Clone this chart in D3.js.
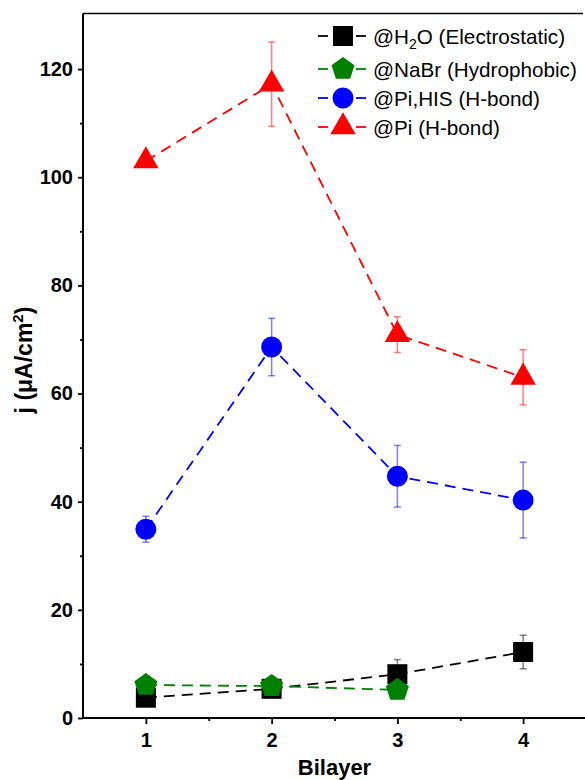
<!DOCTYPE html>
<html>
<head>
<meta charset="utf-8">
<script src="https://cdn.jsdelivr.net/npm/d3@7"></script>
<style>
  html, body { margin: 0; padding: 0; background: #fff; }
  svg { display: block; }
  text { font-family: "Liberation Sans", Arial, sans-serif; }
</style>
</head>
<body>
<svg id="chart" width="585" height="780"></svg>
<script>
// Bilayer number on the x axis
const bilayers = [1, 2, 3, 4];

// Current density j (µA/cm²) per series, with standard deviations (null = not drawn)
const h2oValues   = [3.75, 5.4, 8.1, 12.2];
const h2oErrors   = [null, null, 2.7, 3.1];
const nabrValues  = [6.1, 5.9, 5.2];
const nabrErrors  = [null, null, null];
const pihisValues = [34.9, 68.6, 44.7, 40.3];
const pihisErrors = [2.4, 5.3, 5.7, 7.0];
const piValues    = [103.0, 117.2, 70.9, 63.0];
const piErrors    = [null, 7.8, 3.3, 5.1];

const seriesNames = ["@H2O (Electrostatic)", "@NaBr (Hydrophobic)", "@Pi,HIS (H-bond)", "@Pi (H-bond)"];

const yMajorTicks = [0, 20, 40, 60, 80, 100, 120];
const yMinorTicks = [10, 30, 50, 70, 90, 110];
const xMajorTicks = [1, 2, 3, 4];
const xMinorTicks = [1.5, 2.5, 3.5];

const series = [
  { name: seriesNames[0], values: h2oValues,   errors: h2oErrors,   color: "#000000", shape: "square" },
  { name: seriesNames[1], values: nabrValues,  errors: nabrErrors,  color: "#008000", shape: "pentagon" },
  { name: seriesNames[2], values: pihisValues, errors: pihisErrors, color: "#0000ff", shape: "circle" },
  { name: seriesNames[3], values: piValues,    errors: piErrors,    color: "#ff0000", shape: "triangle" }
];

const plotLeft = 83, plotRight = 586, plotTop = 15, plotBottom = 718;
const x = d3.scaleLinear().domain([0.5, 4.5]).range([plotLeft, plotRight]);
const y = d3.scaleLinear().domain([0, 130]).range([plotBottom, plotTop]);

const svg = d3.select("#chart");

// Marker outlines, centred on the data point
function markerPath(shape) {
  if (shape === "square") {
    const h = 10;
    return `M${-h},${-h}H${h}V${h}H${-h}Z`;
  }
  if (shape === "circle") {
    const r = 10.5;
    return `M${r},0A${r},${r} 0 1,1 ${-r},0A${r},${r} 0 1,1 ${r},0Z`;
  }
  if (shape === "pentagon") {
    const R = 12.1;
    const pts = d3.range(5).map(i => {
      const a = -Math.PI / 2 + i * 2 * Math.PI / 5;
      return [R * Math.cos(a), R * Math.sin(a)];
    });
    return "M" + pts.map(p => p.join(",")).join("L") + "Z";
  }
  // triangle centred on its centroid
  const k = 7.35, s = Math.sqrt(3);
  return `M0,${-2 * k}L${s * k},${k}L${-s * k},${k}Z`;
}

// Axes
const yAxisMajor = d3.axisLeft(y).tickValues(yMajorTicks).tickSize(5).tickPadding(5).tickFormat(d3.format("d"));
const yAxisMinor = d3.axisLeft(y).tickValues(yMinorTicks).tickSize(3).tickFormat("");
const xAxisMajor = d3.axisBottom(x).tickValues(xMajorTicks).tickSize(6).tickPadding(9).tickFormat(d3.format("d"));
const xAxisMinor = d3.axisBottom(x).tickValues(xMinorTicks).tickSize(3).tickFormat("");

function styleAxis(g) {
  g.select(".domain").remove();
  g.selectAll(".tick line").attr("stroke", "#000").attr("stroke-width", 1.8);
  g.selectAll(".tick text")
    .attr("font-family", "'Liberation Sans', Arial, sans-serif")
    .attr("font-size", 20).attr("font-weight", "bold").attr("fill", "#000");
}

svg.append("g").attr("transform", `translate(${plotLeft},0)`).call(yAxisMajor).call(styleAxis);
svg.append("g").attr("transform", `translate(${plotLeft},0)`).call(yAxisMinor).call(styleAxis);
svg.append("g").attr("transform", `translate(0,${plotBottom})`).call(xAxisMajor).call(styleAxis);
svg.append("g").attr("transform", `translate(0,${plotBottom})`).call(xAxisMinor).call(styleAxis);

// Frame: left axis, bottom axis, top border
svg.append("line").attr("x1", plotLeft).attr("x2", plotLeft).attr("y1", plotTop - 1.5).attr("y2", plotBottom + 1)
  .attr("stroke", "#000").attr("stroke-width", 2);
svg.append("line").attr("x1", plotLeft - 1).attr("x2", 585).attr("y1", plotBottom).attr("y2", plotBottom)
  .attr("stroke", "#000").attr("stroke-width", 2);
svg.append("line").attr("x1", plotLeft).attr("x2", 583).attr("y1", plotTop - 1.5).attr("y2", plotTop - 1.5)
  .attr("stroke", "#000").attr("stroke-width", 1.6);

// Axis titles
svg.append("text")
  .attr("x", (plotLeft + plotRight) / 2).attr("y", 774.5)
  .attr("text-anchor", "middle").attr("font-size", 22).attr("font-weight", "bold")
  .text("Bilayer");

const yTitle = svg.append("text")
  .attr("transform", "translate(32,360) rotate(-90)")
  .attr("text-anchor", "middle").attr("font-size", 23).attr("font-weight", "bold");
yTitle.append("tspan").text("j (\u03BCA/cm");
yTitle.append("tspan").attr("font-size", 15).attr("dy", -9).text("2");
yTitle.append("tspan").attr("dy", 9).text(")");

// Series: dashed connecting line, error bars, markers
const plot = svg.append("g");
const line = d3.line().x(d => x(d.x)).y(d => y(d.v));

series.forEach(s => {
  const pts = s.values.map((v, i) => ({ x: bilayers[i], v, e: s.errors[i] }));
  const g = plot.append("g");

  g.append("path").datum(pts).attr("d", line)
    .attr("fill", "none").attr("stroke", s.color)
    .attr("stroke-width", 1.8).attr("stroke-dasharray", "11,7");

  const eb = g.selectAll(".err").data(pts.filter(p => p.e != null)).join("g")
    .attr("stroke", s.color).attr("stroke-opacity", 0.5).attr("stroke-width", 1.5);
  eb.append("line")
    .attr("x1", d => x(d.x)).attr("x2", d => x(d.x))
    .attr("y1", d => y(d.v + d.e)).attr("y2", d => y(d.v - d.e));
  eb.append("line")
    .attr("x1", d => x(d.x) - 3.5).attr("x2", d => x(d.x) + 3.5)
    .attr("y1", d => y(d.v + d.e)).attr("y2", d => y(d.v + d.e));
  eb.append("line")
    .attr("x1", d => x(d.x) - 3.5).attr("x2", d => x(d.x) + 3.5)
    .attr("y1", d => y(d.v - d.e)).attr("y2", d => y(d.v - d.e));

  g.selectAll(".mk").data(pts).join("path")
    .attr("d", markerPath(s.shape))
    .attr("transform", d => `translate(${x(d.x)},${y(d.v)})`)
    .attr("fill", s.color);
});

// Legend
const legendRows = [36, 69, 98, 127];
const legend = svg.append("g");
series.forEach((s, i) => {
  const cy = legendRows[i];
  const row = legend.append("g");
  row.append("line").attr("x1", 318).attr("x2", 328).attr("y1", cy).attr("y2", cy)
    .attr("stroke", s.color).attr("stroke-width", 1.8);
  row.append("line").attr("x1", 356).attr("x2", 366).attr("y1", cy).attr("y2", cy)
    .attr("stroke", s.color).attr("stroke-width", 1.8);
  row.append("path").attr("d", markerPath(s.shape))
    .attr("transform", `translate(343,${cy})`).attr("fill", s.color);

  const t = row.append("text").attr("x", 373).attr("y", cy + 7.5).attr("font-size", 20.7);
  if (i === 0) {
    t.append("tspan").text("@H");
    t.append("tspan").attr("font-size", 14).attr("dy", 5).text("2");
    t.append("tspan").attr("dy", -5).text("O (Electrostatic)");
  } else {
    t.text(s.name);
  }
});
</script>
</body>
</html>
